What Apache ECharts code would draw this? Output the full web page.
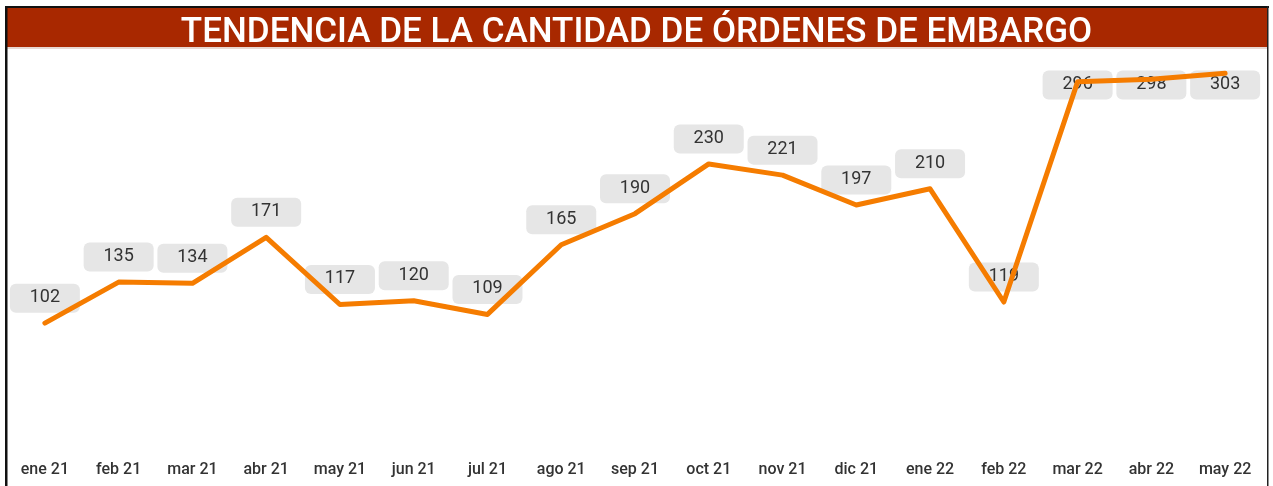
<!DOCTYPE html>
<html>
<head>
<meta charset="utf-8">
<script src="https://cdn.jsdelivr.net/npm/echarts@6/dist/echarts.min.js"></script>
<style>
html,body{margin:0;padding:0;background:#fff;}
#chart{width:1273px;height:486px;}
</style>
</head>
<body>
<div id="chart"></div>
<script>
const titleText = 'TENDENCIA DE LA CANTIDAD DE ÓRDENES DE EMBARGO';
const categories = ['ene 21','feb 21','mar 21','abr 21','may 21','jun 21','jul 21','ago 21','sep 21','oct 21','nov 21','dic 21','ene 22','feb 22','mar 22','abr 22','may 22'];
const ordenes = [102,135,134,171,117,120,109,165,190,230,221,197,210,119,296,298,303];

const chart = echarts.init(document.getElementById('chart'), null, {renderer:'canvas'});
const labelMinCenterY = 85;

function buildOption(offsets){
  return {
    animation:false,
    title:{
      text:titleText, left:'center', top:9,
      textStyle:{color:'#fff', fontFamily:'Roboto', fontWeight:500, fontSize:35, lineHeight:38}
    },
    graphic:[
      {type:'rect', z:-1, shape:{x:7,y:8,width:1260,height:39}, style:{fill:'#a82800'}},
      {type:'rect', z:-1, shape:{x:7,y:47,width:1260,height:2}, style:{fill:'#e8d8d2'}},
      {type:'rect', z:10, shape:{x:5,y:6,width:1264,height:2}, style:{fill:'#111'}},
      {type:'rect', z:10, shape:{x:5,y:6,width:2.5,height:480}, style:{fill:'#111'}},
      {type:'rect', z:10, shape:{x:1267,y:6,width:1.5,height:480}, style:{fill:'#222'}}
    ],
    grid:{left:8, right:11, top:52, bottom:36, containLabel:false},
    xAxis:{
      type:'category', data:categories, boundaryGap:true,
      axisLine:{show:false}, axisTick:{show:false},
      axisLabel:{color:'#333', fontFamily:'Roboto', fontWeight:500, fontSize:16, margin:12}
    },
    yAxis:{
      type:'value', min:0, max:320, show:false, splitLine:{show:false}
    },
    series:[
      {
        type:'line', z:1, data:ordenes.map((v,i)=>({value:v, label:{offset:[0, offsets[i]]}})),
        symbol:'circle', symbolSize:1, itemStyle:{color:'rgba(0,0,0,0)'},
        lineStyle:{width:0, color:'rgba(0,0,0,0)'},
        label:{
          show:true, position:'top', distance:10,
          backgroundColor:'#e6e6e6', borderRadius:6,
          width:70, height:29, lineHeight:30, align:'center',
          color:'#333', fontFamily:'Roboto', fontSize:18
        }
      },
      {
        type:'line', z:3, data:ordenes, symbol:'none',
        lineStyle:{width:5, color:'#f57c00', cap:'round', join:'round'},
        label:{show:false}
      }
    ]
  };
}

chart.setOption(buildOption(ordenes.map(()=>0)));
const offs = ordenes.map((v,i)=>{
  const py = chart.convertToPixel({seriesIndex:0}, [i, v])[1];
  const c = py - 25;
  return c < labelMinCenterY ? (labelMinCenterY - c) : 0;
});
chart.setOption(buildOption(offs));
</script>
</body>
</html>
